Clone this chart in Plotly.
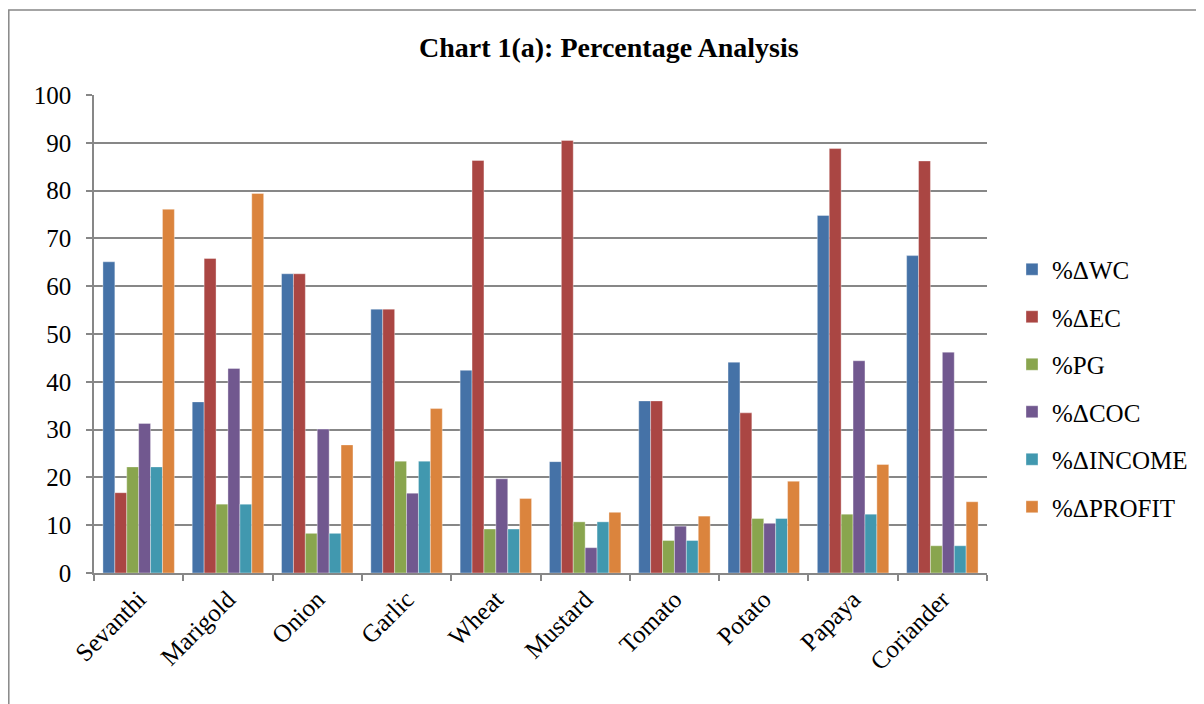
import plotly.graph_objects as go

categories = ["Sevanthi", "Marigold", "Onion", "Garlic", "Wheat", "Mustard", "Tomato", "Potato", "Papaya", "Coriander"]
wc = [65.1, 35.8, 62.6, 55.2, 42.4, 23.3, 36.0, 44.1, 74.8, 66.4]
ec = [16.8, 65.8, 62.6, 55.2, 86.3, 90.5, 36.0, 33.5, 88.8, 86.2]
pg = [22.2, 14.4, 8.3, 23.4, 9.2, 10.7, 6.8, 11.4, 12.3, 5.7]
coc = [31.3, 42.8, 30.1, 16.7, 19.7, 5.3, 9.8, 10.4, 44.4, 46.2]
income = [22.2, 14.4, 8.3, 23.4, 9.2, 10.7, 6.8, 11.4, 12.3, 5.7]
profit = [76.1, 79.4, 26.8, 34.4, 15.6, 12.7, 11.9, 19.2, 22.7, 14.9]
series_names = ["%ΔWC", "%ΔEC", "%PG", "%ΔCOC", "%ΔINCOME", "%ΔPROFIT"]
series_values = [wc, ec, pg, coc, income, profit]
colors = ["#4572A7", "#AA4643", "#89A54E", "#71588F", "#4198AF", "#DB843D"]
y_ticks = [0, 10, 20, 30, 40, 50, 60, 70, 80, 90, 100]

FONT = "Liberation Serif"

fig = go.Figure()
for name, vals, col in zip(series_names, series_values, colors):
    fig.add_trace(go.Bar(
        x=categories, y=vals, name=name, legendgroup=name,
        marker=dict(color=col, line=dict(color="rgba(255,255,255,0.6)", width=0.6)),
    ))

L, T, PW, PH = 86, 87, 893, 478
fig.update_layout(
    width=1204, height=704,
    paper_bgcolor="white", plot_bgcolor="white",
    margin=dict(l=L, r=1204 - L - PW, t=T, b=704 - T - PH),
    barmode="group", bargap=0.2, bargroupgap=0,
    font=dict(family=FONT, color="black", size=25),
    title=dict(text="<b>Chart 1(a): Percentage Analysis</b>", x=0.499, xanchor="center",
               y=1 - 39 / 704, yanchor="middle", font=dict(family=FONT, size=28, color="black")),
    legend=dict(x=1.028, y=0.387, xanchor="left", yanchor="middle",
                font=dict(family=FONT, size=25), tracegroupgap=12,
                bgcolor="rgba(0,0,0,0)"),
    showlegend=True,
)
fig.update_xaxes(
    type="category", tickson="boundaries", ticks="outside", ticklen=6,
    tickcolor="#878787", tickwidth=1.5,
    showline=True, linecolor="#878787", linewidth=1.5,
    tickangle=-45, tickfont=dict(family=FONT, size=25),
    showgrid=False,
)
fig.update_yaxes(
    range=[0, 100], tickvals=y_ticks, ticks="outside", ticklen=6,
    tickcolor="#878787", tickwidth=1.5,
    showline=True, linecolor="#878787", linewidth=1.5,
    showgrid=True, gridcolor="#878787", gridwidth=1.5,
    tickfont=dict(family=FONT, size=25), zeroline=False,
    ticklabelstandoff=10,
)
fig.add_shape(type="rect", xref="paper", yref="paper",
              x0=(0.8 - L) / PW, x1=(1191 - L) / PW,
              y0=-0.4, y1=(T + PH - 2) / PH,
              line=dict(color="#878787", width=1.5), layer="below")

fig.write_html("out.html")
